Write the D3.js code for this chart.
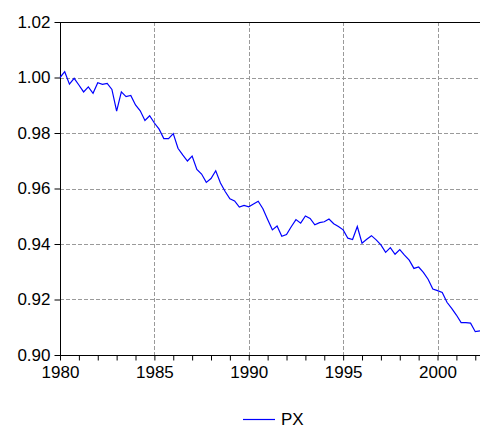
<!DOCTYPE html>
<html>
<head>
<meta charset="utf-8">
<script src="https://cdn.jsdelivr.net/npm/d3@7"></script>
<style>
  body { margin: 0; background: #fff; }
  svg { display: block; font-family: "Liberation Sans", Arial, sans-serif; }
</style>
</head>
<body>
<div id="chart"></div>
<script>
const width = 480;
const height = 429;
const lineColor = '#0000FF';
const gridColor = '#9a9a9a';
const fontSize = '17px';

// quarterly series, first observation 1980Q1
const startYear = 1980;
const seriesName = 'PX';
const px = [
  1.0000, 1.0021, 0.9976, 0.9997, 0.9973, 0.9948, 0.9966, 0.9943, 0.9981, 0.9975,
  0.9979, 0.9957, 0.9879, 0.9948, 0.9931, 0.9935, 0.9901, 0.9880, 0.9845, 0.9862,
  0.9836, 0.9814, 0.9780, 0.9780, 0.9798, 0.9745, 0.9721, 0.9699, 0.9717, 0.9669,
  0.9652, 0.9622, 0.9636, 0.9664, 0.9620, 0.9589, 0.9563, 0.9555, 0.9533, 0.9539,
  0.9534, 0.9544, 0.9554, 0.9527, 0.9488, 0.9451, 0.9465, 0.9428, 0.9434, 0.9462,
  0.9488, 0.9475, 0.9501, 0.9492, 0.9469, 0.9477, 0.9480, 0.9490, 0.9473, 0.9463,
  0.9451, 0.9421, 0.9416, 0.9463, 0.9403, 0.9417, 0.9430, 0.9415, 0.9397, 0.9370,
  0.9387, 0.9363, 0.9380, 0.9360, 0.9342, 0.9312, 0.9317, 0.9298, 0.9273, 0.9238,
  0.9232, 0.9225, 0.9190, 0.9168, 0.9144, 0.9117, 0.9117, 0.9115, 0.9084, 0.9087
];
const yTicks = [0.90, 0.92, 0.94, 0.96, 0.98, 1.00, 1.02];
const xLabelYears = [1980, 1985, 1990, 1995, 2000];
const xMinorYears = d3.range(1980, 2003);

const margin = {left: 60, top: 22, right: 0, bottom: 74};

const data = px.map((v, i) => ({t: startYear + i / 4, value: v}));

const xScale = d3.scaleLinear()
  .domain([startYear, startYear + (px.length - 1) / 4])
  .range([margin.left, width - margin.right]);

const yScale = d3.scaleLinear()
  .domain([0.90, 1.02])
  .range([height - margin.bottom, margin.top]);

const svg = d3.select('#chart')
  .append('svg')
  .attr('width', width)
  .attr('height', height);

const plotBottom = yScale(0.90);
const plotTop = yScale(1.02);

/* grid */
const grid = svg.append('g')
  .attr('stroke', gridColor)
  .attr('stroke-width', 1)
  .attr('stroke-dasharray', '4,2');

grid.selectAll('line.h')
  .data(yTicks.filter(v => v > 0.90 && v < 1.02))
  .join('line')
  .attr('class', 'h')
  .attr('x1', margin.left)
  .attr('x2', width)
  .attr('y1', d => Math.round(yScale(d)) + 0.5)
  .attr('y2', d => Math.round(yScale(d)) + 0.5);

grid.selectAll('line.v')
  .data(xLabelYears.slice(1))
  .join('line')
  .attr('class', 'v')
  .attr('x1', d => Math.round(xScale(d)) + 0.5)
  .attr('x2', d => Math.round(xScale(d)) + 0.5)
  .attr('y1', plotTop)
  .attr('y2', plotBottom);

/* axes */
const yAxis = d3.axisLeft(yScale)
  .tickValues(yTicks)
  .tickSize(6)
  .tickPadding(4)
  .tickFormat(d3.format('.2f'));

const yAxisElement = svg.append('g')
  .attr('transform', `translate(${margin.left + 0.5},0)`)
  .call(yAxis);

yAxisElement.selectAll('text')
  .style('font-size', fontSize)
  .attr('fill', '#000');

const xAxis = d3.axisBottom(xScale)
  .tickValues(xMinorYears)
  .tickSize(5)
  .tickPadding(5)
  .tickFormat(d => xLabelYears.includes(d) ? d : '');

const xAxisElement = svg.append('g')
  .attr('transform', `translate(0,${Math.round(plotBottom) + 0.5})`)
  .call(xAxis);

xAxisElement.selectAll('text')
  .style('font-size', fontSize)
  .attr('fill', '#000');

xAxisElement.select('.domain').remove();
yAxisElement.select('.domain').remove();

/* frame */
svg.append('rect')
  .attr('x', margin.left + 0.5)
  .attr('y', Math.round(plotTop) + 0.5)
  .attr('width', width - margin.left + 2)
  .attr('height', Math.round(plotBottom) - Math.round(plotTop))
  .attr('fill', 'none')
  .attr('stroke', '#000')
  .attr('stroke-width', 1);

/* series */
const line = d3.line()
  .x(d => xScale(d.t))
  .y(d => yScale(d.value));

svg.append('path')
  .datum(data)
  .attr('fill', 'none')
  .attr('stroke', lineColor)
  .attr('stroke-width', 1.2)
  .attr('stroke-linejoin', 'miter')
  .attr('d', line);

/* legend */
const legend = svg.append('g')
  .attr('transform', 'translate(243,419)');

legend.append('line')
  .attr('x1', 0)
  .attr('x2', 32)
  .attr('y1', 0.5)
  .attr('y2', 0.5)
  .attr('stroke', lineColor)
  .attr('stroke-width', 1.2);

legend.append('text')
  .attr('x', 38)
  .attr('y', 6)
  .style('font-size', fontSize)
  .attr('fill', '#000')
  .text(seriesName);
</script>
</body>
</html>
